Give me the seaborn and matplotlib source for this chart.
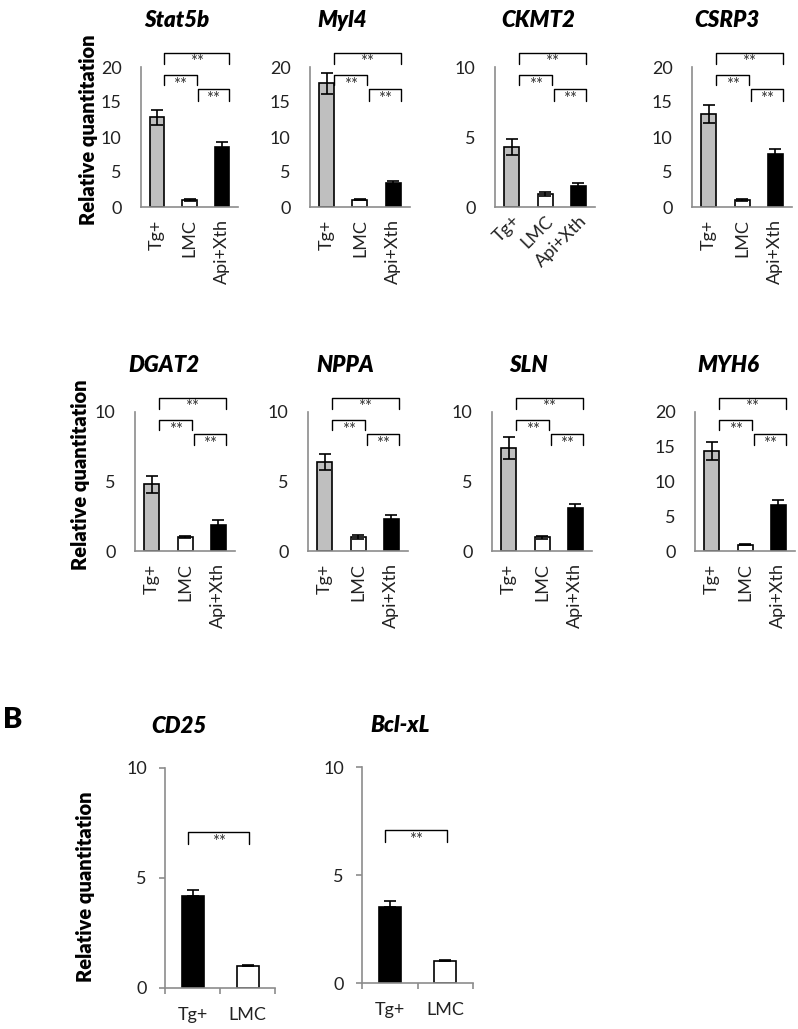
import numpy as np
import pandas as pd
import matplotlib
matplotlib.use("Agg")
import matplotlib.pyplot as plt
import matplotlib.transforms as mtransforms
import seaborn as sns

sns.set_style("white")
plt.rcParams["font.family"] = ["Lato", "DejaVu Sans"]

# --- Data ---
groups_a = ["Tg+", "LMC", "Api+Xth"]
genes_a = ["Stat5b", "Myl4", "CKMT2", "CSRP3", "DGAT2", "NPPA", "SLN", "MYH6"]

stat5b_mean = [12.8, 1.0, 8.6]
stat5b_err = [1.1, 0.1, 0.7]
myl4_mean = [17.7, 1.05, 3.4]
myl4_err = [1.5, 0.1, 0.25]
ckmt2_mean = [4.3, 0.95, 1.5]
ckmt2_err = [0.55, 0.15, 0.25]
csrp3_mean = [13.3, 1.0, 7.6]
csrp3_err = [1.3, 0.1, 0.7]
dgat2_mean = [4.8, 1.0, 1.9]
dgat2_err = [0.6, 0.1, 0.3]
nppa_mean = [6.4, 1.0, 2.3]
nppa_err = [0.55, 0.12, 0.3]
sln_mean = [7.4, 0.98, 3.1]
sln_err = [0.8, 0.1, 0.3]
myh6_mean = [14.4, 0.9, 6.6]
myh6_err = [1.3, 0.1, 0.8]

groups_b = ["Tg+", "LMC"]
genes_b = ["CD25", "Bcl-xL"]
cd25_mean = [4.17, 0.98]
cd25_err = [0.27, 0.05]
bclxl_mean = [3.5, 1.0]
bclxl_err = [0.3, 0.05]

ymax_a = [20, 20, 10, 20, 10, 10, 10, 20]
ymax_b = [10, 10]

means_a = [stat5b_mean, myl4_mean, ckmt2_mean, csrp3_mean,
           dgat2_mean, nppa_mean, sln_mean, myh6_mean]
errs_a = [stat5b_err, myl4_err, ckmt2_err, csrp3_err,
          dgat2_err, nppa_err, sln_err, myh6_err]
means_b = [cd25_mean, bclxl_mean]
errs_b = [cd25_err, bclxl_err]

colors_a = ["#bfbfbf", "#ffffff", "#000000"]
colors_b = ["#000000", "#ffffff"]

# --- Layout (pixel boxes: left, top, width, height) ---
W, H = 798, 1029
boxes_a = [(141, 67, 97, 140), (310, 67, 100, 140), (495, 67, 100, 140), (692, 67, 100, 140),
           (135, 412, 100, 139), (308, 412, 100, 139), (492, 412, 100, 139), (695, 412, 100, 139)]
boxes_b = [(165, 768, 110, 220), (362, 767, 111, 216)]
title_x_a = [0.37, 0.32, 0.43, 0.35, 0.29, 0.37, 0.37, 0.33]
title_x_b = [0.13, 0.34]

SPINE = "#8c8c8c"
TXT = "#222222"
TICK_FS = 13


def add_ax(fig, box):
    l, t, w, h = box
    return fig.add_axes([l / W, 1 - (t + h) / H, w / W, h / H])


def bracket(ax, x1, x2, ytop, yleg, fs=12):
    trans = mtransforms.blended_transform_factory(ax.transData, ax.transAxes)
    ax.plot([x1, x1, x2, x2], [yleg, ytop, ytop, yleg], transform=trans,
            color="black", lw=1.0, clip_on=False)
    ax.text((x1 + x2) / 2, ytop - 0.01, "**", transform=trans, ha="center",
            va="top", fontsize=fs, color="#333333")


def bars(ax, groups, means, errs, colors, width, both=True):
    df = pd.DataFrame({"group": groups, "value": means})
    sns.barplot(data=df, x="group", y="value", hue="group", order=groups,
                hue_order=groups, palette=colors, width=width, edgecolor="black",
                linewidth=1.2, errorbar=None, legend=False, ax=ax, zorder=2)
    errs = np.array(errs)
    yerr = errs if both else [np.zeros_like(errs), errs]
    ax.errorbar(np.arange(len(groups)), means, yerr=yerr, fmt="none",
                ecolor="black", elinewidth=1.2, capsize=4, capthick=1.2, zorder=5)
    sns.despine(ax=ax)
    for s in ["left", "bottom"]:
        ax.spines[s].set_color(SPINE)
        ax.spines[s].set_linewidth(1.2)
    ax.set_xlabel("")
    ax.set_ylabel("")


fig = plt.figure(figsize=(W / 100, H / 100), dpi=100)

# --- Panel A ---
for i, gene in enumerate(genes_a):
    ax = add_ax(fig, boxes_a[i])
    bars(ax, groups_a, means_a[i], errs_a[i], colors_a, 0.45)
    ax.set_xlim(-0.5, 2.5)
    ax.set_ylim(0, ymax_a[i])
    ax.set_yticks(np.arange(0, ymax_a[i] + 1, 5))
    ax.tick_params(axis="y", length=0, pad=14, labelsize=TICK_FS, labelcolor=TXT)
    if gene == "CKMT2":
        ax.tick_params(axis="x", length=0, pad=4, labelsize=TICK_FS, labelcolor=TXT)
        plt.setp(ax.get_xticklabels(), rotation=45, ha="right", rotation_mode="anchor")
    else:
        ax.tick_params(axis="x", length=0, pad=9, labelsize=TICK_FS, labelcolor=TXT,
                       labelrotation=90)
    ax.set_title(gene, x=title_x_a[i], pad=29, fontsize=16, fontweight="heavy",
                 fontstyle="italic", color="black")
    if i % 4 == 0:
        ax.set_ylabel("Relative quantitation", fontsize=14.5, fontweight="heavy",
                      color="black", va="center")
        ax.yaxis.set_label_coords(-0.54, 0.55)
    bracket(ax, 0.22, 2.22, 1.10, 1.02)
    bracket(ax, 0.22, 1.22, 0.94, 0.87)
    bracket(ax, 1.26, 2.22, 0.84, 0.76)

# --- Panel B ---
for i, gene in enumerate(genes_b):
    ax = add_ax(fig, boxes_b[i])
    bars(ax, groups_b, means_b[i], errs_b[i], colors_b, 0.4, both=False)
    ax.set_xlim(-0.5, 1.5)
    ax.set_ylim(0, ymax_b[i])
    ax.set_yticks([0, 5, 10])
    ax.set_xticks([-0.5, 0.5, 1.5], minor=True)
    ax.tick_params(axis="y", left=True, length=4, width=1.2, color=SPINE, pad=9,
                   labelsize=TICK_FS, labelcolor=TXT)
    ax.tick_params(axis="x", which="major", bottom=False, length=0, pad=14,
                   labelsize=TICK_FS, labelcolor=TXT)
    ax.tick_params(axis="x", which="minor", bottom=True, length=4, width=1.2, color=SPINE)
    ax.set_title(gene, x=title_x_b[i], pad=25, fontsize=16,
                 fontweight="heavy", fontstyle="italic", color="black")
    if i == 0:
        ax.set_ylabel("Relative quantitation", fontsize=14.5, fontweight="heavy",
                      color="black", va="center")
        ax.yaxis.set_label_coords(-0.72, 0.46)
    bracket(ax, -0.08, 1.03, 0.71, 0.655)

fig.text(13 / W, 1 - 720 / H, "B", fontsize=21, fontweight="heavy", ha="center",
         va="center", color="black")

fig.savefig("out.png", dpi=100)
